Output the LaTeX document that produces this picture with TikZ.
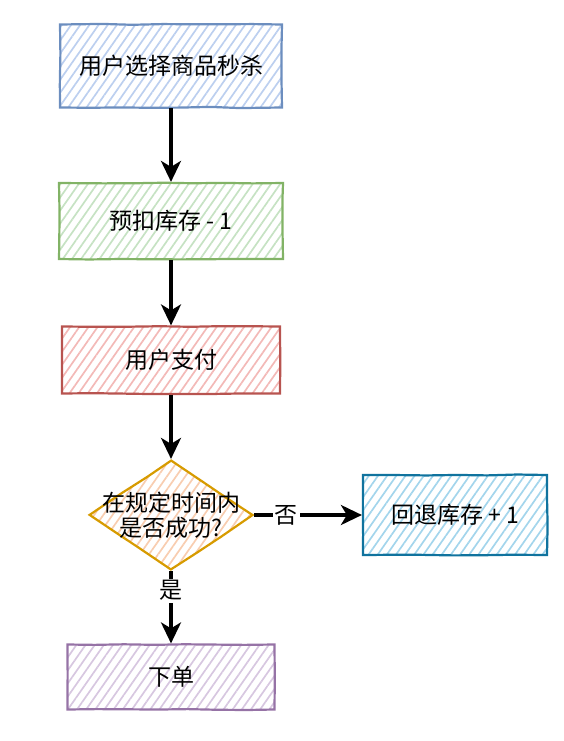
\documentclass[tikz,border=0pt]{standalone}
\usepackage{fontspec}
\setmainfont{Noto Sans CJK SC}
\usetikzlibrary{arrows.meta, patterns.meta, shapes.geometric, decorations.pathmorphing}

\definecolor{blueline}{HTML}{6C8EBF}   \definecolor{bluefill}{HTML}{BCCFEF}
\definecolor{greenline}{HTML}{82B366}  \definecolor{greenfill}{HTML}{C6E2C3}
\definecolor{redline}{HTML}{B85450}    \definecolor{redfill}{HTML}{F3B9B7}
\definecolor{orangeline}{HTML}{D79B00} \definecolor{orangefill}{HTML}{F8CDB0}
\definecolor{cyanline}{HTML}{10739E}   \definecolor{cyanfill}{HTML}{A3D5EC}
\definecolor{purpleline}{HTML}{9673A6} \definecolor{purplefill}{HTML}{D7C7E0}

\tikzset{
  sketch/.style={draw=#1line, line width=2.2pt,
    pattern={Lines[angle=55, distance=7.5pt, line width=1.7pt]}, pattern color=#1fill,
    decorate, decoration={random steps, segment length=30pt, amplitude=0.6pt}},
  stepbox/.style={sketch=#1, rectangle, inner sep=0pt},
  decision/.style={sketch=#1, diamond, inner sep=0pt},
  flow/.style={line width=3.4pt, -{Stealth[length=21pt, width=20pt, inset=6pt]}},
  every node/.style={font=\fontsize{23}{25}\selectfont}
}

\begin{document}
\begin{tikzpicture}[x=1pt, y=-1pt]
    \useasboundingbox (0,0) rectangle (564,741);

    % Boxes
    \node[stepbox=blue, minimum width=222pt, minimum height=83pt] (choose) at (171,66) {用户选择商品秒杀};
    \node[stepbox=green, minimum width=224pt, minimum height=76pt] (deduct) at (171,221) {预扣库存 - 1};
    \node[stepbox=red, minimum width=218pt, minimum height=67pt] (pay) at (171,360) {用户支付};
    \node[decision=orange, minimum width=164pt, minimum height=110pt] (check) at (171,515) {};
    \node[align=center] (checktext) at (check) {在规定时间内\\是否成功?};
    \node[stepbox=cyan, minimum width=184pt, minimum height=80pt] (rollback) at (455,515) {回退库存 + 1};
    \node[stepbox=purple, minimum width=207pt, minimum height=65pt] (order) at (171,677) {下单};

    % Connectors
    \foreach \a/\b in {choose/deduct, deduct/pay, pay/check}
      \draw[flow] (\a) -- (\b);
    \draw[flow] (check) -- node[pos=0.3, fill=white, inner sep=2pt] {否} (rollback);
    \draw[flow] (check) -- node[pos=0.27, fill=white, inner sep=2pt] {是} (order);
\end{tikzpicture}
\end{document}
